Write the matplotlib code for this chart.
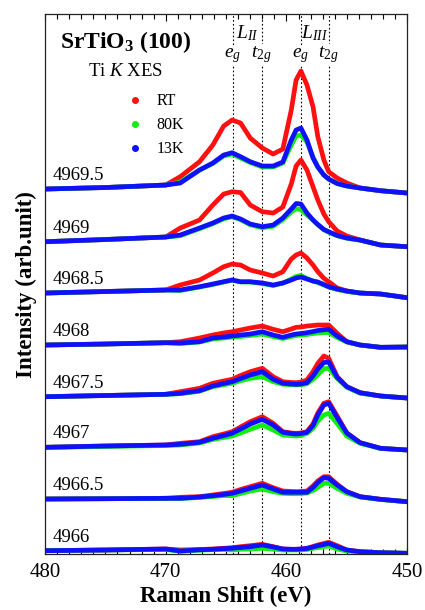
import matplotlib
matplotlib.use('Agg')
import matplotlib.pyplot as plt
from matplotlib.lines import Line2D

plt.rcParams['font.family'] = ['Liberation Serif', 'DejaVu Serif']
plt.rcParams['mathtext.fontset'] = 'custom'
plt.rcParams['mathtext.rm'] = 'Liberation Serif'
plt.rcParams['mathtext.it'] = 'Liberation Serif:italic'
plt.rcParams['mathtext.bf'] = 'Liberation Serif:bold'

# Raman shift grid (eV)
shift = [480, 475, 470, 468.8, 467.2, 466.1, 465.2, 464.5, 463.8, 463.0, 462.0, 461.1, 460.3,
         459.6, 459.2, 458.8, 458.3, 457.8, 457.4, 456.9, 456.5, 455.8, 455.0, 453.9, 452.2, 450]

# excitation energies, bottom to top, and the vertical offset of each spectrum
excitation = ['4966', '4966.5', '4967', '4967.5', '4968', '4968.5', '4969', '4969.5']
offsets = [3.6, 55.3, 107.0, 157.6, 209.3, 261.3, 312.6, 365.3]

rt = [
    [0, 0.7, 1.7, 0.7, 1.2, 1.7, 2.4, 3, 4, 5, 6.4, 4, 1.7, 1.4, 1.4, 1.7, 2.4, 4.2, 5.7, 7.2, 8.4, 5, 0.7, -1, -2, -2.6],
    [0, 0.3, 0.7, 1.7, 2.3, 4, 5.5, 6.7, 9.5, 12.3, 15.7, 11.3, 8, 7.5, 7.3, 7.5, 8, 13, 18, 22.3, 22.3, 14.7, 7.3, 2.3, -0.3, -2.7],
    [0, 1.3, 2.3, 4, 5.6, 10.6, 13.3, 15.6, 20.3, 25.6, 30.6, 24, 15.6, 14.3, 14, 14.3, 15.6, 23.3, 34.3, 44, 45.6, 31.3, 14.3, 4.6, -1, -2.7],
    [0, 1.2, 2.4, 5, 8.4, 13.4, 15.7, 17.4, 21.2, 25, 28.4, 20, 15, 14.2, 14, 14.7, 16.7, 25, 33.4, 40.7, 38.4, 20, 10, 4, 0.7, -1.3],
    [0, 1, 2.3, 3.3, 7, 10, 12, 13.3, 15, 17, 19, 15.7, 13.3, 16, 17.7, 18, 19, 19.5, 20, 20, 20, 11.7, 3.3, 0, -2.3, -2],
    [0, 1.5, 3, 8, 13, 20, 26.3, 29, 28, 23, 20, 17, 21.3, 34, 38, 40, 35, 28, 21.3, 14.7, 11.3, 5, 2, 0, -1, -4.7],
    [0, 2.2, 4.7, 13.7, 21.7, 36.7, 47.7, 50, 49.2, 36.7, 30, 28.7, 34.7, 57.7, 75.7, 81.7, 71.7, 55, 41.7, 27.7, 20, 10.7, 5.7, 1.7, -3.3, -5],
    [0, 1.5, 4, 12.3, 27.3, 44, 63, 69, 66, 51, 41, 35, 40, 79, 109, 118, 104, 82.3, 52.3, 29, 17.3, 11, 6, 1, -1.7, -4],
]
k80 = [
    [0, 0.7, 1.2, -0.5, 0.5, 1, 1.2, 0.7, 1.5, 1.7, 2.4, 1.7, 0.7, 0.7, 0.7, 0.9, 1.2, 2.4, 3, 4, 4.7, 1.7, -0.3, -1, -2, -2.6],
    [0, 0.3, 0.7, 0.5, 1.5, 2.5, 3.5, 3.3, 5.5, 8, 10, 7.3, 5.7, 5.3, 5.3, 5.5, 6, 8.5, 11.5, 15.7, 15.7, 10.7, 5.7, 2, -0.5, -2.7],
    [0, 0.8, 1.8, 2.3, 4.3, 7.8, 9.8, 11.3, 14.3, 18, 22.3, 17.3, 12.3, 11.8, 11.3, 11.8, 14, 18.8, 26.3, 32.3, 34, 23.8, 11.3, 4, -1.2, -2.7],
    [0, 1.2, 2.4, 3, 5.5, 10, 12, 13.4, 16, 18.4, 20, 15, 12.5, 12, 11.7, 12, 13, 17.5, 22, 28, 28.4, 18.4, 9.5, 3.5, 0.7, -1.3],
    [0, 1, 2.3, 1.5, 3, 6, 7, 8, 8.5, 9.5, 11, 8.5, 6.5, 8.5, 9.5, 10, 10.5, 11.5, 12, 12.5, 12.5, 7.5, 3, 0, -2.3, -2],
    [0, 1.5, 3, 2.5, 6, 8.5, 11, 13, 11, 11, 9.5, 7.5, 10, 14, 16.5, 17.5, 14.5, 12, 10.5, 8, 6, 3.5, 1.5, 0, -1, -4.7],
    [0, 2.2, 4.7, 6, 13, 18, 23, 25, 22, 17, 14, 15.5, 22, 29.7, 33, 32, 26.7, 21.7, 17, 12, 9.5, 6, 3.5, 1.5, -3.3, -5],
    [0, 1.5, 4, 7, 19, 25.5, 33, 35, 31, 26.5, 22, 22, 26, 44, 53, 54, 47, 32, 22, 14, 10, 5.5, 3, 1, -1.7, -4],
]
k13 = [
    [0, 0.7, 1.7, -0.3, 0.9, 1.4, 2, 2.4, 3.2, 4, 5.7, 3.7, 1.7, 1.4, 1.4, 1.7, 2.2, 3.7, 5, 6.2, 7.4, 4, 0.7, -1, -2, -2.6],
    [0, 0.3, 0.7, 0.7, 2, 3.3, 4.5, 5.7, 8, 10.7, 14, 10, 6.7, 6.7, 6.7, 6.7, 6.7, 11.5, 16.5, 21.3, 20.7, 14, 7.3, 2.3, -0.3, -2.7],
    [0, 1.3, 2.3, 3, 5, 9, 11.8, 14, 18.3, 23.3, 28, 22.3, 15, 13.8, 13.3, 13.8, 15, 21.8, 32.3, 42.3, 44, 29.8, 14.3, 4.6, -1, -2.7],
    [0, 1.2, 2.4, 3.4, 6, 10.7, 13.2, 15, 18.2, 21.7, 25, 17.4, 13.4, 12.7, 12.4, 12.7, 14, 20.7, 27.7, 34.2, 34.7, 19.4, 10, 4, 0.7, -1.3],
    [0, 1, 2.3, 2, 3.3, 7, 8, 9, 10, 11, 13.3, 10, 7.7, 10, 11, 11.5, 12.3, 13.5, 14.5, 15.3, 15.7, 9, 3.3, 0, -2.3, -2],
    [0, 1.5, 3, 3, 6.3, 9, 11.3, 13, 11.3, 11.3, 10, 8, 10, 13, 15, 16, 14, 12, 11, 8.5, 6.3, 4, 2, 0, -1, -4.7],
    [0, 2.2, 4.7, 6.7, 13.7, 18.7, 23.7, 25.7, 22.7, 17.7, 15, 16.7, 23.7, 32.7, 38.2, 37.7, 28.7, 21.7, 17.2, 12.2, 10, 6.2, 3.7, 1.7, -3.3, -5],
    [0, 1.5, 4, 6, 19, 26, 34, 36.3, 32.3, 27.3, 23, 23, 27, 49, 59, 61, 49, 31, 22, 14, 10, 5.5, 3, 1, -1.7, -4],
]

# L2 / L3 eg and t2g positions (eV)
peak_pos = [464.45, 462.05, 458.8, 456.5]
peak_lbl = ['$e_g$', '$t_{2g}$', '$e_g$', '$t_{2g}$']

series = [('RT', rt, '#ff1010'), ('80K', k80, '#10ee10'), ('13K', k13, '#1010ff')]


def main():
    fig = plt.figure(figsize=(4.25, 6.10), dpi=100)
    ax = fig.add_axes([0.106, 0.0913, 0.852, 0.8857])

    for xp in peak_pos:
        ax.axvline(xp, color='k', ls=(0, (1.5, 2)), lw=0.8, zorder=1)

    for name, data, col in series:
        for off, spec in zip(offsets, data):
            ax.plot(shift, [off + v for v in spec], color=col, lw=3.4,
                    solid_joinstyle='round', solid_capstyle='round', zorder=2)

    for off, lab in zip(offsets, excitation):
        ax.text(479.35, off + 9, lab, fontsize=13.5, ha='left', va='baseline')

    for xp, lab in zip(peak_pos, peak_lbl):
        ax.text(xp, 497, lab, fontsize=14, ha='center', va='baseline',
                bbox=dict(facecolor='white', edgecolor='none', pad=0.3), zorder=3)
    ax.text((peak_pos[0] + peak_pos[1]) / 2, 516, '$L_{II}$', fontsize=14, ha='center', va='baseline')
    ax.text((peak_pos[2] + peak_pos[3]) / 2, 516, '$L_{III}$', fontsize=14, ha='center', va='baseline')

    ax.text(0.222, 0.937, r'SrTiO$_\mathbf{3}$ (100)', transform=ax.transAxes,
            fontsize=17, fontweight='bold', ha='center', va='baseline')
    ax.text(0.222, 0.885, 'Ti $K$ XES', transform=ax.transAxes,
            fontsize=13.5, ha='center', va='baseline')

    handles = [Line2D([], [], ls='none', marker='o', ms=4, color=c, label=n) for n, d, c in series]
    ax.legend(handles=handles, loc='upper left', bbox_to_anchor=(0.225, 0.853), frameon=False,
              fontsize=11.5, handlelength=1.0, handletextpad=0.9, labelspacing=0.5,
              borderpad=0, borderaxespad=0)

    ax.set_xlim(480, 450)
    ax.set_ylim(0, 540.3)
    ax.set_xticks([480, 470, 460, 450])
    ax.set_xticks(range(450, 481), minor=True)
    ax.set_yticks([])
    ax.tick_params(axis='x', which='both', direction='in', top=True, labelsize=15, pad=6)
    ax.tick_params(axis='x', which='major', length=5, width=0.8)
    ax.tick_params(axis='x', which='minor', length=3.5, width=0.8)
    for s in ax.spines.values():
        s.set_linewidth(0.9)
        s.set_color('#222222')

    ax.set_xlabel('Raman Shift (eV)', fontsize=16.5, fontweight='bold', labelpad=3)
    ax.set_ylabel('Intensity (arb.unit)', fontsize=16.5, fontweight='bold', labelpad=6)

    fig.savefig('out.png', dpi=100)


if __name__ == '__main__':
    main()
